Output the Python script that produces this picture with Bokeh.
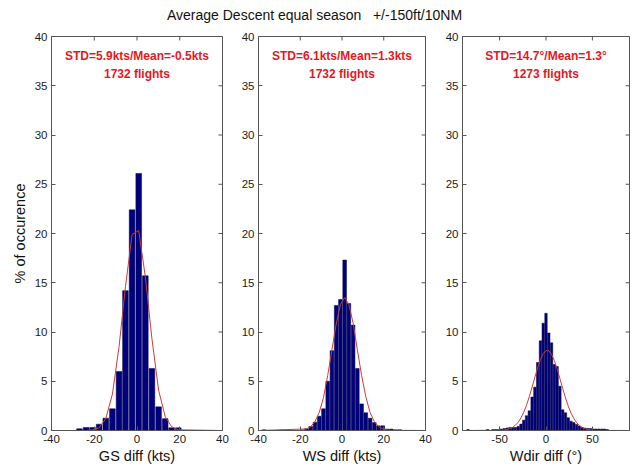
from bokeh.plotting import figure
from bokeh.models import LinearAxis, FixedTicker, Range1d, Div, ColumnDataSource
from bokeh.layouts import row, column
from bokeh.core.properties import value
from bokeh.embed import file_html
from bokeh.resources import INLINE

# ---------------- data ----------------
title_text = "Average Descent equal season   +/-150ft/10NM"
y_ticks = [0, 5, 10, 15, 20, 25, 30, 35, 40]

# Panel 1 : GS diff (kts)
gs_centers = [-26.9, -23.8, -20.8, -17.7, -14.6, -11.5, -8.4, -5.4,
              -2.3, 0.8, 3.9, 7.0, 10.1, 13.2, 16.2, 19.3]
gs_pct = [0.17, 0.3, 0.3, 0.64, 1.25, 2.2, 6.0, 14.2,
          22.4, 26.1, 15.7, 6.3, 2.4, 1.2, 0.27, 0.27]
gs_fit_x = [-40, -26.9, -23.8, -20.8, -17.7, -14.6, -11.5, -8.4, -5.4,
            -2.3, 0.8, 3.9, 7.0, 10.1, 13.2, 16.2, 19.3, 40]
gs_fit_y = [0, 0.0, 0.0, 0.06, 0.29, 1.2, 3.7, 8.5, 14.6,
            19.9, 20.3, 15.6, 9.3, 4.1, 1.4, 0.38, 0.07, 0]
gs_ticks = [-40, -20, 0, 20, 40]
gs_stat = "STD=5.9kts/Mean=-0.5kts"
gs_flights = "1732 flights"

# Panel 2 : WS diff (kts)
ws_centers = [-37.30, -35.27, -33.24, -31.21, -29.18, -27.15, -25.12, -23.09,
              -21.06, -19.03, -17.00, -14.97, -12.94, -10.91, -8.88, -6.85,
              -4.82, -2.79, -0.76, 1.27, 3.30, 5.33, 7.36, 9.39, 11.42,
              13.45, 15.48, 17.51, 19.54, 21.57, 23.60, 25.63, 27.66]
ws_pct = [0.07, 0, 0, 0, 0.05, 0, 0, 0,
          0, 0.06, 0.17, 0.4, 0.85, 1.45, 2.2, 5.0,
          8.1, 12.7, 13.3, 17.3, 12.9, 10.7, 6.3, 2.7, 1.8,
          1.25, 0.8, 0.47, 0.47, 0.14, 0.14, 0.07, 0.07]
ws_fit_x = [-40, -17.0, -14.97, -12.94, -10.91, -8.88, -6.85, -4.82, -2.79,
            -0.76, 1.27, 3.30, 5.33, 7.36, 9.39, 11.42, 13.45, 15.48, 17.51,
            19.54, 21.57, 23.60, 40]
ws_fit_y = [0, 0.16, 0.40, 0.90, 1.83, 3.33, 5.59, 8.19, 10.8,
            12.8, 13.5, 12.8, 10.9, 8.19, 5.59, 3.43, 1.83, 0.9, 0.40,
            0.16, 0.05, 0.02, 0]
ws_ticks = [-40, -20, 0, 20, 40]
ws_stat = "STD=6.1kts/Mean=1.3kts"
ws_flights = "1732 flights"

# Panel 3 : Wdir diff (deg)
wd_centers = [-84, -81, -78, -75, -72, -69, -66, -63, -60, -57, -54, -51,
              -48, -45, -42, -39, -36, -33, -30, -27, -24, -21, -18, -15,
              -12, -9, -6, -3, 0, 3, 6, 9, 12, 15, 18, 21, 24, 27, 30, 33,
              36, 39, 42, 45, 48, 51, 54, 57, 60, 63, 66]
wd_pct = [0.1, 0, 0, 0, 0, 0, 0, 0.1, 0, 0.1, 0.1, 0.1,
          0.15, 0.2, 0.25, 0.3, 0.3, 0.3, 0.4, 0.65, 1.05, 1.5, 2.0, 3.4,
          4.4, 6.9, 9.1, 10.9, 11.9, 9.9, 8.9, 6.7, 6.5, 4.5, 2.1, 1.8,
          1.3, 0.95, 0.8, 0.6, 0.45, 0.3, 0.25, 0.2, 0.2, 0.15, 0.15,
          0.15, 0.15, 0.15, 0.1]
wd_fit_x = [-90, -48, -45, -42, -39, -36, -33, -30, -27, -24, -21, -18, -15,
            -12, -9, -6, -3, 0, 3, 6, 9, 12, 15, 18, 21, 24, 27, 30, 33,
            36, 39, 42, 45, 48, 51, 90]
wd_fit_y = [0, 0.03, 0.06, 0.11, 0.19, 0.32, 0.54, 0.84, 1.28, 1.85, 2.57,
            3.44, 4.40, 5.41, 6.36, 7.20, 7.80, 8.11, 8.09, 7.73, 7.10, 6.25,
            5.27, 4.27, 3.32, 2.47, 1.76, 1.21, 0.79, 0.50, 0.30, 0.18, 0.10,
            0.05, 0.02, 0]
wd_ticks = [-50, 0, 50]
wd_stat = "STD=14.7\u00b0/Mean=1.3\u00b0"
wd_flights = "1273 flights"

# ---------------- styling ----------------
FONT = "Liberation Sans"
AXC = "#555555"
BAR = "#00007f"
RED_TXT = "#e3191f"
RED_LINE = "#cc3b3b"
FRAME_W = 171
FRAME_H = 395
TOP_B = 6
BOT_B = 35
FIG_H = FRAME_H + TOP_B + BOT_B
TICK_PX = 4
Y0, Y1 = 0, 40


def style_axis(ax, ticks, standoff):
    ax.ticker = FixedTicker(ticks=ticks)
    ax.major_label_overrides = {t: "%g" % t for t in ticks}
    ax.major_tick_in = TICK_PX
    ax.major_tick_out = 0
    ax.minor_tick_line_color = None
    ax.axis_line_color = AXC
    ax.major_tick_line_color = AXC
    ax.major_label_text_font = FONT
    ax.major_label_text_color = "#1a1a1a"
    ax.major_label_text_font_size = "11.5px"
    ax.major_label_standoff = standoff


def make_panel(xr, xticks, centers, pct, pitch, fit_x, fit_y, stat, flights,
               xlabel, ylabel, ml, mr):
    p = figure(width=ml + FRAME_W + mr, height=FIG_H,
               x_range=Range1d(xr[0], xr[1]), y_range=Range1d(Y0, Y1),
               x_axis_type=None, y_axis_type=None,
               output_backend="svg", toolbar_location=None,
               min_border_left=ml, min_border_right=mr,
               min_border_top=TOP_B, min_border_bottom=BOT_B)
    p.outline_line_color = AXC
    p.outline_line_alpha = 1.0

    bottom = LinearAxis()
    style_axis(bottom, xticks, 4)
    bottom.axis_label = xlabel
    bottom.axis_label_text_font = FONT
    bottom.axis_label_text_font_size = "14.5px"
    bottom.axis_label_text_font_style = "normal"
    bottom.axis_label_text_color = "#111111"
    bottom.axis_label_standoff = 2
    p.add_layout(bottom, "below")

    left = LinearAxis()
    style_axis(left, y_ticks, 4)
    if ylabel:
        left.axis_label = ylabel
        left.axis_label_text_font = FONT
        left.axis_label_text_font_size = "14.5px"
        left.axis_label_text_font_style = "normal"
        left.axis_label_text_color = "#111111"
        left.axis_label_standoff = 4
    p.add_layout(left, "left")

    # inward tick marks on the top and right edges of the box (MATLAB style)
    dx = (xr[1] - xr[0]) * TICK_PX / FRAME_W
    dy = (Y1 - Y0) * TICK_PX / FRAME_H
    p.segment(x0=xticks, y0=[Y1] * len(xticks), x1=xticks,
              y1=[Y1 - dy] * len(xticks), line_color=AXC, line_width=1)
    p.segment(x0=[xr[1]] * len(y_ticks), y0=y_ticks,
              x1=[xr[1] - dx] * len(y_ticks), y1=y_ticks,
              line_color=AXC, line_width=1)

    src = ColumnDataSource(dict(x=centers, top=pct))
    p.vbar(x="x", top="top", bottom=0, width=pitch * 0.86, source=src,
           fill_color=BAR, line_color="#000040", line_width=0.5)
    p.line(fit_x, fit_y, line_color=RED_LINE, line_width=1)

    mid = (xr[0] + xr[1]) / 2.0
    p.text(x=[mid], y=[38.0], text=[stat], text_align="center",
           text_baseline="middle", text_font=value(FONT),
           text_font_size="12px", text_font_style="bold",
           text_color=RED_TXT)
    p.text(x=[mid], y=[36.2], text=[flights], text_align="center",
           text_baseline="middle", text_font=value(FONT),
           text_font_size="12px", text_font_style="bold",
           text_color=RED_TXT)
    return p


p1 = make_panel((-40, 40), gs_ticks, gs_centers, gs_pct, 3.08, gs_fit_x,
                gs_fit_y, gs_stat, gs_flights, "GS diff (kts)",
                "% of occurence", 51, 16)
p2 = make_panel((-40, 40), ws_ticks, ws_centers, ws_pct, 2.03, ws_fit_x,
                ws_fit_y, ws_stat, ws_flights, "WS diff (kts)", None, 16, 17)
p3 = make_panel((-90, 90), wd_ticks, wd_centers, wd_pct, 3.0, wd_fit_x,
                wd_fit_y, wd_stat, wd_flights, "Wdir diff (\u00b0)", None,
                16, 8)

title_div = Div(text=title_text, width=629, height=30, margin=(0, 0, 0, 0),
                styles={"text-align": "center", "font-family": FONT,
                        "font-size": "14px", "line-height": "30px",
                        "white-space": "pre", "color": "#111111"})

layout = column(title_div, row(p1, p2, p3, spacing=0), spacing=0)

open("out.html", "w").write(file_html(layout, INLINE))
